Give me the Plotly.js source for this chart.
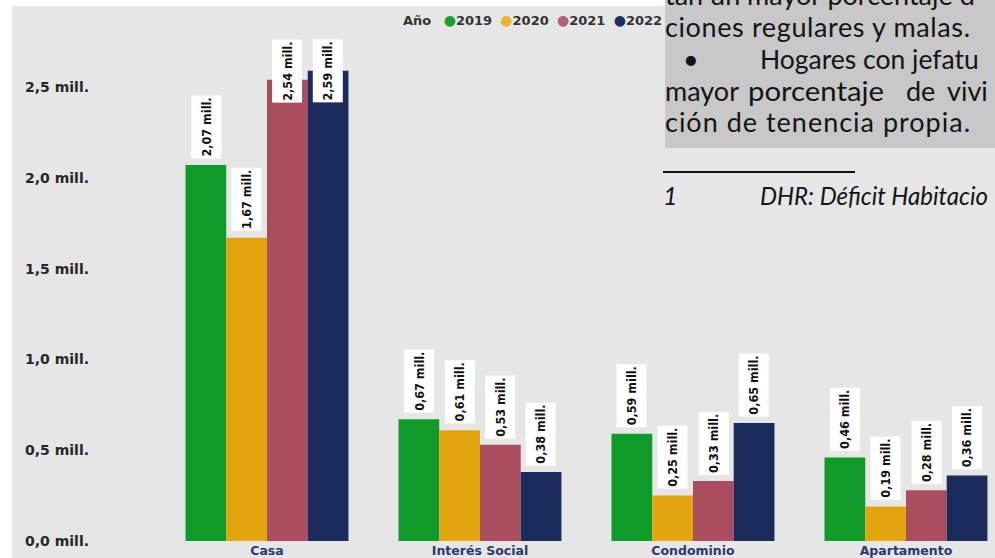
<!DOCTYPE html>
<html>
<head>
<meta charset="utf-8">
<script src="https://cdn.plot.ly/plotly-3.0.1.min.js"></script>
<style>
  html, body { margin: 0; padding: 0; background: #ffffff; }
  #wrap { position: relative; width: 995px; height: 558px; overflow: hidden; }
  #bg { position: absolute; left: 12px; top: 6px; width: 983px; height: 552px; background: #e6e6e6; }
  #box { position: absolute; left: 665px; top: 0px; width: 330px; height: 148px; background: #c8c8c8; }
  #chart { position: absolute; left: 0; top: 0; width: 995px; height: 558px; }
  #doc { position: absolute; left: 0; top: 0; pointer-events: none; }
</style>
</head>
<body>
<div id="wrap">
  <div id="bg"></div>
  <div id="box"></div>
  <div id="chart"></div>
  <svg id="doc" width="995" height="558" xmlns="http://www.w3.org/2000/svg">
    <g font-family="Lato, 'Open Sans', sans-serif" font-size="27" fill="#141414">
      <text x="665" y="5">tan un mayor porcentaje d</text>
      <text x="665" y="37" textLength="305">ciones regulares y malas.</text>
      <text x="683" y="69">•</text>
      <text x="760" y="69" font-size="26.5">Hogares con jefatu</text>
      <text x="665" y="101">mayor</text>
      <text x="748" y="101" textLength="136" lengthAdjust="spacingAndGlyphs">porcentaje</text>
      <text x="906" y="101">de</text>
      <text x="947" y="101">vivi</text>
      <text x="665" y="132" textLength="305">ción de tenencia propia.</text>
      <line x1="663" y1="172" x2="855" y2="172" stroke="#111" stroke-width="2.2"/>
      <text x="663" y="205" font-style="italic" font-size="25">1</text>
      <text x="760" y="205" font-style="italic" font-size="25" textLength="228" lengthAdjust="spacingAndGlyphs">DHR: Déficit Habitacio</text>
    </g>
  </svg>
</div>
<script>
// ---- data ----
const categories = ['Casa', 'Interés Social', 'Condominio', 'Apartamento'];
const years = ['2019', '2020', '2021', '2022'];
const v2019 = [2.07, 0.67, 0.59, 0.46];
const v2020 = [1.67, 0.61, 0.25, 0.19];
const v2021 = [2.54, 0.53, 0.33, 0.28];
const v2022 = [2.59, 0.38, 0.65, 0.36];
const yTickVals = [0, 0.5, 1.0, 1.5, 2.0, 2.5];
const yTickText = ['0,0 mill.', '0,5 mill.', '1,0 mill.', '1,5 mill.', '2,0 mill.', '2,5 mill.'];
const valueSuffix = ' mill.';

// ---- styles ----
const series = [v2019, v2020, v2021, v2022];
const barColors = ['#0f9b2a', '#e2a50e', '#a94d5f', '#1b2b5c'];
const dotColors = ['#17a22f', '#e8b52e', '#b5607a', '#1f2f62'];
const bargap = 0.235;
const labelCeiling = 2.38;
const boldWide = "'DejaVu Sans', sans-serif";

const traces = series.map((vals, i) => ({
  type: 'bar',
  name: years[i],
  x: categories,
  y: vals,
  marker: { color: barColors[i], line: { width: 0 } },
  hoverinfo: 'none',
  showlegend: false
}));

const barW = (1 - bargap) / series.length;
const fmt = v => v.toFixed(2).replace('.', ',') + valueSuffix;
const annotations = [];
series.forEach((vals, i) => {
  vals.forEach((v, c) => {
    annotations.push({
      xref: 'x', yref: 'y',
      x: c + (i - (series.length - 1) / 2) * barW,
      y: Math.min(v, labelCeiling),
      text: '<b>' + fmt(v) + '</b>',
      textangle: -90,
      showarrow: false,
      xanchor: 'center', yanchor: 'bottom',
      yshift: 6,
      bgcolor: '#ffffff',
      width: 62, height: 29,
      borderpad: 0,
      font: { family: "'Liberation Sans Narrow', 'DejaVu Sans Condensed', sans-serif", size: 12.5, color: '#111111' }
    });
  });
});

// legend built from the year list
let leg = '<b>Año</b>&nbsp;';
years.forEach((yr, i) => {
  leg += '&nbsp;&nbsp;<span style="color:' + dotColors[i] + ';font-size:14px">●</span><b>' + yr + '</b>';
});
annotations.push({
  xref: 'paper', yref: 'paper',
  x: (401 - 95) / 900, y: (541 - 20) / 535,
  xanchor: 'left', yanchor: 'middle',
  text: leg, showarrow: false,
  font: { family: boldWide, size: 13, color: '#333333' }
});

const layout = {
  width: 995, height: 558,
  margin: { l: 95, r: 0, t: 6, b: 17, pad: 0 },
  paper_bgcolor: 'rgba(0,0,0,0)',
  plot_bgcolor: 'rgba(0,0,0,0)',
  barmode: 'group',
  bargap: bargap,
  bargroupgap: 0,
  showlegend: false,
  xaxis: {
    type: 'category',
    range: [-0.8075, 3.418],
    showgrid: false, zeroline: false, showline: false,
    ticks: '',
    tickfont: { family: boldWide, size: 12.5, color: '#2c3872', weight: 700 },
    fixedrange: true
  },
  yaxis: {
    range: [0, 2.946],
    tickmode: 'array',
    tickvals: yTickVals,
    ticktext: yTickText,
    showgrid: false, zeroline: false, showline: false,
    ticks: '',
    ticklabelstandoff: 5,
    tickfont: { family: boldWide, size: 14, color: '#262626', weight: 700 },
    fixedrange: true
  },
  annotations: annotations
};

Plotly.newPlot('chart', traces, layout, { staticPlot: true, displayModeBar: false });
</script>
</body>
</html>
